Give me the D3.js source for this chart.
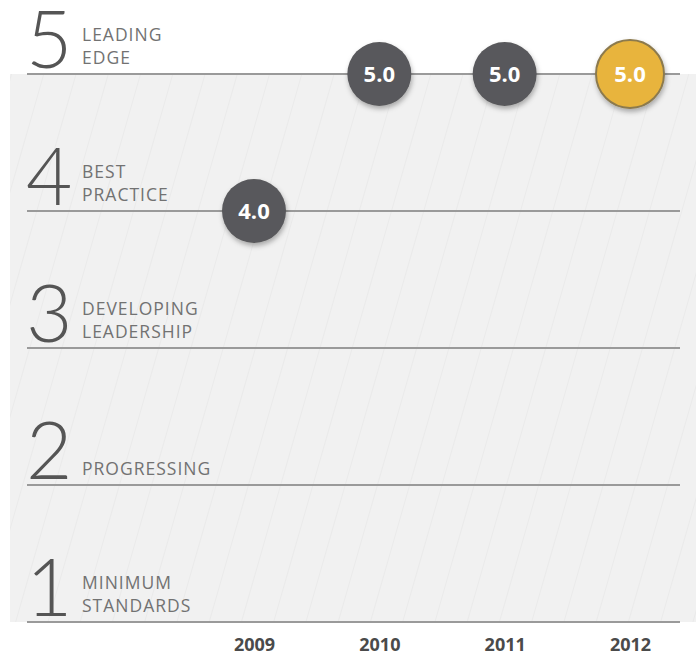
<!DOCTYPE html>
<html>
<head>
<meta charset="utf-8">
<script src="https://cdn.jsdelivr.net/npm/d3@7"></script>
<style>
  html, body { margin: 0; padding: 0; background: #fff; }
  svg { display: block; }
  .num { font-family: Lato, "Open Sans", sans-serif; font-weight: 300; fill: #555; }
  .lbl { font-family: "Open Sans", Lato, sans-serif; font-size: 17.5px; fill: #727272; letter-spacing: 1px; }
  .yr { font-family: "Open Sans", Lato, sans-serif; font-weight: 700; font-size: 18px; fill: #4a4a4a; }
  .val { font-family: "Open Sans", Lato, sans-serif; font-weight: 700; font-size: 22px; fill: #fff; }
</style>
</head>
<body>
<svg id="chart" width="700" height="656"></svg>
<script>
const levels = [1, 2, 3, 4, 5];
const levelNames = [["MINIMUM", "STANDARDS"], ["PROGRESSING"], ["DEVELOPING", "LEADERSHIP"], ["BEST", "PRACTICE"], ["LEADING", "EDGE"]];
const years = ["2009", "2010", "2011", "2012"];
const scores = [4.0, 5.0, 5.0, 5.0];
const highlight = "2012";

const svg = d3.select("#chart");

const y = d3.scaleLinear().domain([1, 5]).range([622, 74]);
const x = d3.scalePoint().domain(years).range([254, 630]);

// background panel + hatch
const defs = svg.append("defs");
const pat = defs.append("pattern").attr("id", "hatch")
  .attr("patternUnits", "userSpaceOnUse").attr("width", 31).attr("height", 31)
  .attr("patternTransform", "rotate(16)");
pat.append("rect").attr("width", 31).attr("height", 31).attr("fill", "#f1f1f1");
pat.append("line").attr("x1", 0).attr("y1", 0).attr("x2", 0).attr("y2", 31)
  .attr("stroke", "#e3e3e3").attr("stroke-width", 1);

const sh = defs.append("filter").attr("id", "shadow").attr("x", "-30%").attr("y", "-30%").attr("width", "160%").attr("height", "170%");
sh.append("feDropShadow").attr("dx", 1).attr("dy", 3).attr("stdDeviation", 2.5).attr("flood-color", "#000").attr("flood-opacity", 0.3);

svg.append("rect").attr("x", 10).attr("y", y(5)).attr("width", 686).attr("height", y(1) - y(5))
  .attr("fill", "url(#hatch)");

// level lines
svg.append("g").selectAll("line").data(levels).join("line")
  .attr("x1", 27).attr("x2", 680)
  .attr("y1", d => y(d)).attr("y2", d => y(d))
  .attr("stroke", "#9a9a9a").attr("stroke-width", 2);

// level numerals and names
const lv = svg.append("g").selectAll("g").data(levels).join("g");
lv.append("text").attr("class", "num")
  .attr("x", 26).attr("y", d => y(d) - 6)
  .attr("font-size", 80)
  .text(d => d);
lv.each(function(d, i) {
  const names = levelNames[i];
  const t = d3.select(this).append("text").attr("class", "lbl");
  names.forEach((n, j) => {
    t.append("tspan").attr("x", 82)
      .attr("y", y(d) - 10 - (names.length - 1 - j) * 23)
      .text(n);
  });
});

// year axis
const xAxis = svg.append("g").attr("transform", "translate(0,651)")
  .call(d3.axisBottom(x).tickSize(0).tickPadding(0));
xAxis.select(".domain").remove();
xAxis.selectAll("text").attr("class", "yr").attr("dy", 0).attr("y", 0);

// score markers
const pts = svg.append("g").selectAll("g").data(years).join("g")
  .attr("transform", (d, i) => `translate(${x(d)},${y(scores[i])})`);
pts.append("circle")
  .attr("r", d => d === highlight ? 34 : 32)
  .attr("fill", d => d === highlight ? "#e8b43c" : "#59595b")
  .attr("stroke", d => d === highlight ? "#8c7a4e" : "none")
  .attr("stroke-width", 2)
  .attr("filter", "url(#shadow)");
pts.append("text").attr("class", "val")
  .attr("text-anchor", "middle").attr("dy", "0.36em")
  .text((d, i) => scores[i].toFixed(1));
</script>
</body>
</html>
